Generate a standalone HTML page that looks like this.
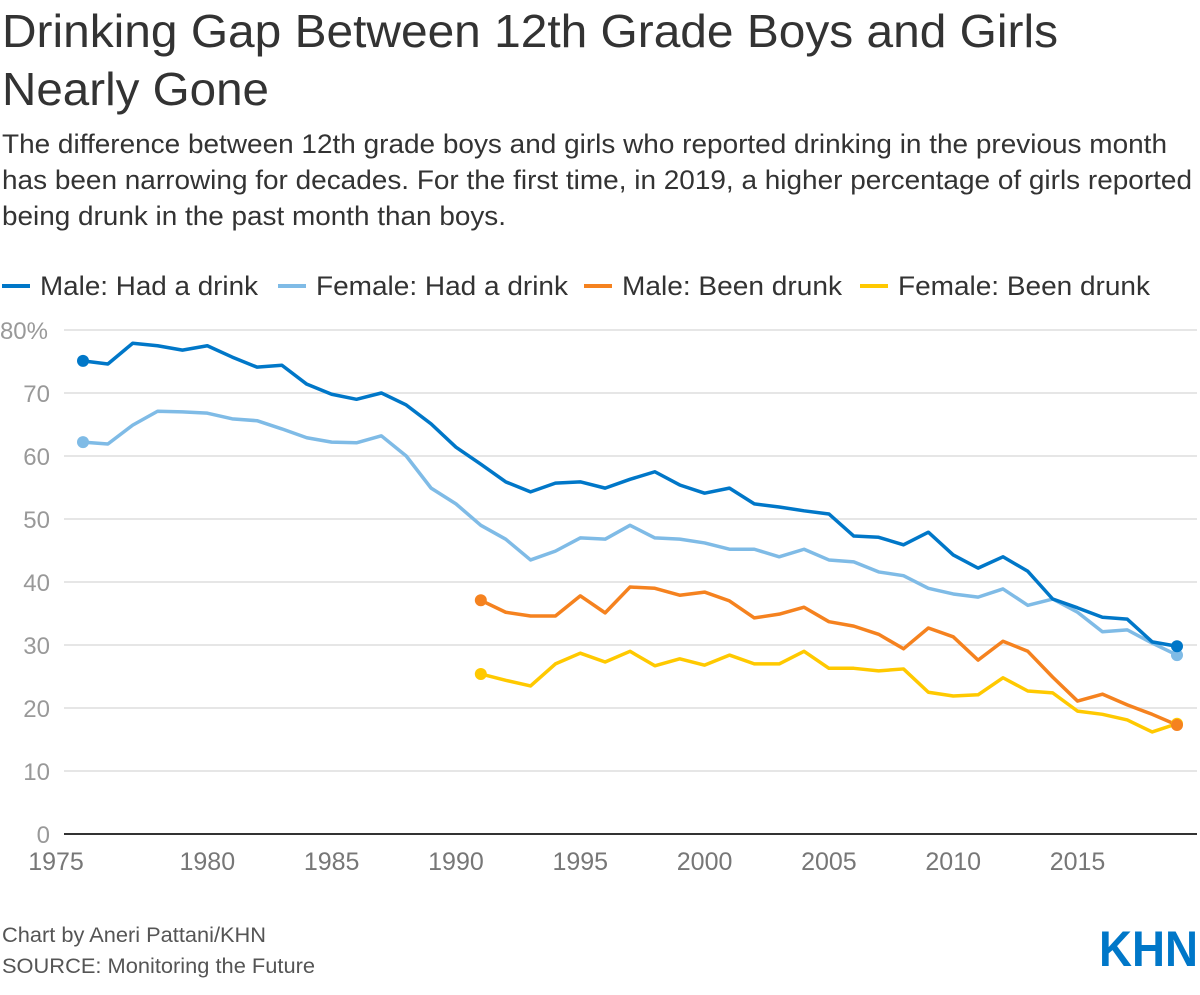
<!DOCTYPE html>
<html><head><meta charset="utf-8">
<style>
body{margin:0;background:#fff;width:1200px;height:990px;overflow:hidden;font-family:"Liberation Sans",Arial,sans-serif;}
</style></head>
<body>
<svg id="chart" width="1200" height="990" xmlns="http://www.w3.org/2000/svg" font-family="Liberation Sans, Arial, sans-serif">
<text x="2" y="47" font-size="46" fill="#333" textLength="1056" lengthAdjust="spacingAndGlyphs">Drinking Gap Between 12th Grade Boys and Girls</text>
<text x="2" y="105" font-size="46" fill="#333" textLength="267" lengthAdjust="spacingAndGlyphs">Nearly Gone</text>
<g font-size="27" fill="#333">
<text x="2" y="153" textLength="1165" lengthAdjust="spacingAndGlyphs">The difference between 12th grade boys and girls who reported drinking in the previous month</text>
<text x="2" y="189" textLength="1190" lengthAdjust="spacingAndGlyphs">has been narrowing for decades. For the first time, in 2019, a higher percentage of girls reported</text>
<text x="2" y="225" textLength="504" lengthAdjust="spacingAndGlyphs">being drunk in the past month than boys.</text>
</g>
<g id="legend" fill="#333"></g>
<g id="grid"></g>
<g id="series"></g>
<text x="2" y="942" font-size="21" fill="#555" textLength="264" lengthAdjust="spacingAndGlyphs">Chart by Aneri Pattani/KHN</text>
<text x="2" y="973" font-size="21" fill="#555" textLength="313" lengthAdjust="spacingAndGlyphs">SOURCE: Monitoring the Future</text>
<text x="1099" y="966" font-size="50" font-weight="bold" fill="#0077c8" textLength="99" lengthAdjust="spacingAndGlyphs">KHN</text>
</svg>
<script>
const years=[];for(let y=1975;y<=2019;y++)years.push(y);
const maleDrink=[75.1,74.6,77.9,77.5,76.8,77.5,75.7,74.1,74.4,71.4,69.8,69.0,70.0,68.1,65.1,61.4,58.7,55.9,54.3,55.7,55.9,54.9,56.3,57.5,55.4,54.1,54.9,52.4,51.9,51.3,50.8,47.3,47.1,45.9,47.9,44.3,42.2,44.0,41.7,37.3,35.9,34.4,34.1,30.5,29.8];
const femaleDrink=[62.2,61.9,64.9,67.1,67.0,66.8,65.9,65.6,64.3,62.9,62.2,62.1,63.2,60.0,54.9,52.4,49.0,46.8,43.5,44.9,47.0,46.8,49.0,47.0,46.8,46.2,45.2,45.2,44.0,45.2,43.5,43.2,41.6,41.0,39.0,38.1,37.6,38.9,36.3,37.3,35.2,32.1,32.4,30.3,28.4];
const drunkYears=[];for(let y=1991;y<=2019;y++)drunkYears.push(y);
const maleDrunk=[37.1,35.2,34.6,34.6,37.8,35.1,39.2,39.0,37.9,38.4,37.0,34.3,34.9,36.0,33.7,33.0,31.7,29.4,32.7,31.3,27.6,30.6,29.0,24.9,21.1,22.2,20.5,19.0,17.3];
const femaleDrunk=[25.4,24.4,23.5,27.0,28.7,27.3,29.0,26.7,27.8,26.8,28.4,27.0,27.0,29.0,26.3,26.3,25.9,26.2,22.5,21.9,22.1,24.8,22.7,22.4,19.5,19.0,18.1,16.2,17.5];
const yTicks=[0,10,20,30,40,50,60,70,80];
const xTicks=[1975,1980,1985,1990,1995,2000,2005,2010,2015];
const seriesNames=["Male: Had a drink","Female: Had a drink","Male: Been drunk","Female: Been drunk"];
const colors=["#0077c8","#7fbbe6","#f5821f","#ffc900"];

const NS="http://www.w3.org/2000/svg";
const X=y=>83+(y-1975)*(1094/44);
const Y=v=>834-v*6.3;
function mk(tag,attrs,parent){const e=document.createElementNS(NS,tag);for(const k in attrs)e.setAttribute(k,attrs[k]);parent.appendChild(e);return e;}
const grid=document.getElementById('grid');
yTicks.forEach(v=>{
  if(v>0){const l=mk('line',{x1:64,x2:1197,y1:Y(v),y2:Y(v),stroke:'#ddd','stroke-width':1.5},grid);
  
  }
  const t=mk('text',{x:50,y:Y(v)+9,'text-anchor':'end','font-size':24,fill:'#999'},grid);
  t.textContent=v===80?'80%':String(v);
  if(v===80){t.setAttribute('x',48);}
  
  
});
const ax=mk('line',{x1:64,x2:1197,y1:834,y2:834,stroke:'#333','stroke-width':2},grid);


xTicks.forEach(y=>{
  const t=mk('text',{x:y===1975?56:X(y),y:870,'text-anchor':'middle','font-size':25,fill:'#777'},grid);
  t.textContent=String(y);
  
  
});
const sg=document.getElementById('series');
const data=[[years,maleDrink],[years,femaleDrink],[drunkYears,maleDrunk],[drunkYears,femaleDrunk]];
const order=[1,0,3,2];
order.forEach(i=>{
  const [xs,vs]=data[i];
  const p=mk('polyline',{points:xs.map((x,j)=>X(x)+','+Y(vs[j])).join(' '),fill:'none',stroke:colors[i],'stroke-width':3.5,'stroke-linejoin':'round'},sg);
  
  
});
order.forEach(i=>{
  const [xs,vs]=data[i];
  [0,xs.length-1].forEach(j=>{
    const c=mk('circle',{cx:X(xs[j]),cy:Y(vs[j]),r:6,fill:colors[i]},sg);
    
    
  });
});
const lg=document.getElementById('legend');
const lx=[2,278,584,860];
const lw=[218,252,220,252];
seriesNames.forEach((n,i)=>{
  const l=mk('line',{x1:lx[i],x2:lx[i]+28,y1:286,y2:286,stroke:colors[i],'stroke-width':4},lg);
  
  
  const t=mk('text',{x:lx[i]+38,y:295,'font-size':27,textLength:lw[i],lengthAdjust:'spacingAndGlyphs'},lg);
  t.textContent=n;
  
  
});
</script>
</body></html>
